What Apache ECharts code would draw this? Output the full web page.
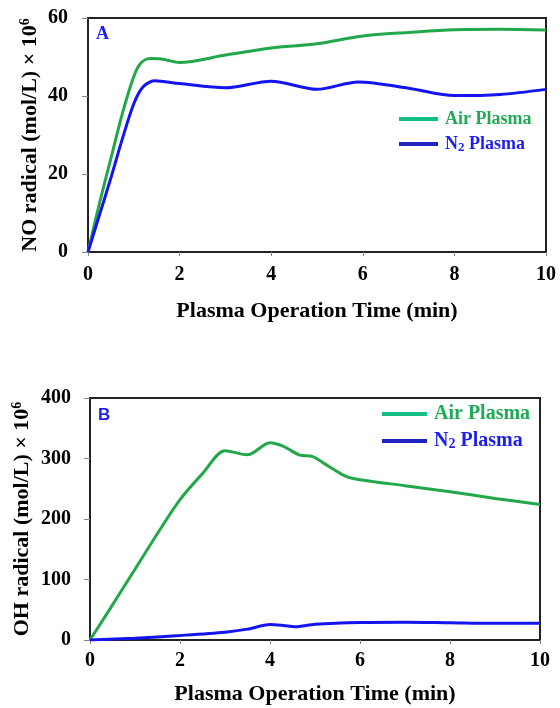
<!DOCTYPE html>
<html>
<head>
<meta charset="utf-8">
<script src="https://cdn.jsdelivr.net/npm/echarts@6/dist/echarts.min.js"></script>
<style>
html,body{margin:0;padding:0;background:#fff;}
#chart{width:560px;height:708px;}
</style>
</head>
<body>
<div id="chart"></div>
<script>
// Panel A: NO radical
const timeAirA = [0, 0.25, 0.5, 0.75, 1.0, 1.15, 1.35, 1.6, 2.0, 3.0, 4.0, 5.0, 6.0, 7.0, 8.0, 9.0, 10];
const noAir    = [0, 12.5, 24, 35.5, 45, 48.4, 49.6, 49.5, 48.6, 50.5, 52.3, 53.4, 55.4, 56.3, 57.0, 57.1, 56.9];
const timeN2A  = [0, 0.25, 0.5, 0.75, 1.0, 1.2, 1.45, 2.0, 3.0, 4.0, 5.0, 5.9, 7.0, 8.0, 9.0, 10];
const noN2     = [0, 9.5, 19, 29, 38, 42.3, 43.9, 43.2, 42.1, 43.8, 41.7, 43.6, 42.0, 40.1, 40.4, 41.7];
// Panel B: OH radical
const timeAirB = [0, 0.5, 1, 1.5, 2, 2.5, 3.0, 3.5, 4.0, 4.3, 4.65, 4.95, 5.2, 5.7, 6.0, 7, 8, 9, 10];
const ohAir    = [0, 58, 117, 176, 232, 275, 313, 306, 326, 320, 306, 303, 292, 270, 265, 255, 245, 234, 224];
const timeN2B  = [0, 1, 2, 3, 3.5, 4.0, 4.3, 4.55, 5, 6, 7, 8, 9, 10];
const ohN2     = [0, 3, 7.5, 13, 18, 25.5, 24, 22, 26, 29, 29.5, 28.5, 27.5, 27.5];

const seriesNames = ['Air Plasma', 'N2 Plasma'];

const pair = (xs, ys) => xs.map((x, i) => [x, ys[i]]);

const FONT = 'Liberation Serif';
const GREEN = '#22A84A';
const BLUE = '#1414F0';

const axisCommonX = (gi, gap, lm) => ({
  type: 'value', gridIndex: gi, min: 0, max: 10, interval: 2,
  name: 'Plasma Operation Time (min)', nameLocation: 'middle', nameGap: gap,
  nameMoveOverlap: false,
  nameTextStyle: {fontFamily: FONT, fontWeight: 'bold', fontSize: 22, color: '#000'},
  axisLine: {show: true, lineStyle: {color: '#222', width: 2}},
  axisTick: {show: true, inside: false, length: 4, lineStyle: {color: '#888', width: 1}},
  axisLabel: {fontFamily: FONT, fontWeight: 'bold', fontSize: 20, color: '#000', margin: lm},
  splitLine: {show: false}
});

const axisCommonY = (gi, max, interval, nameTxt, gap, lm) => ({
  type: 'value', gridIndex: gi, min: 0, max: max, interval: interval,
  name: '{t|' + nameTxt + '}{s|6}', nameLocation: 'middle', nameGap: gap, nameRotate: 90,
  nameMoveOverlap: false,
  nameTextStyle: {
    fontFamily: FONT, fontWeight: 'bold', fontSize: 22, color: '#000',
    rich: {
      t: {fontFamily: FONT, fontWeight: 'bold', fontSize: 22, color: '#000'},
      s: {fontFamily: FONT, fontWeight: 'bold', fontSize: 14, color: '#000', padding: [0, 0, 10, 0]}
    }
  },
  axisLine: {show: true, lineStyle: {color: '#222', width: 2}},
  axisTick: {show: true, inside: false, length: 6, lineStyle: {color: '#888', width: 1}},
  axisLabel: {fontFamily: FONT, fontWeight: 'bold', fontSize: 20, color: '#000', margin: lm},
  splitLine: {show: false}
});

const legendFor = (top, left, w, gap, fs) => ({
  orient: 'vertical', top: top, left: left, itemWidth: w, itemHeight: 4, itemGap: gap,
  padding: 0,
  icon: 'rect',
  textStyle: {fontFamily: FONT, fontWeight: 'bold', fontSize: fs,
    rich: {
      g: {fontFamily: FONT, fontWeight: 'bold', fontSize: fs, color: '#1FAA55', padding: [0, 0, 0, 2]},
      b: {fontFamily: FONT, fontWeight: 'bold', fontSize: fs, color: '#1E1EF0'},
      bn: {fontFamily: FONT, fontWeight: 'bold', fontSize: fs, color: '#1E1EF0', padding: [0, 0, 0, 2]},
      sb: {fontFamily: FONT, fontWeight: 'bold', fontSize: Math.round(fs * 0.7), color: '#1E1EF0', padding: [7, 0, 0, 0]}
    }
  },
  formatter: (n) => n === 'N2 Plasma' ? '{bn|N}{sb|2}{b| Plasma}' : '{g|' + n + '}',
  data: [
    {name: 'Air Plasma', itemStyle: {color: '#12C082'}},
    {name: 'N2 Plasma', itemStyle: {color: '#2222C0'}}
  ]
});

const chart = echarts.init(document.getElementById('chart'), null, {renderer: 'canvas'});
chart.setOption({
  animation: false,
  backgroundColor: '#fff',
  grid: [
    {left: 88, top: 18, width: 458, height: 234, show: true, borderColor: '#222', borderWidth: 2},
    {left: 90, top: 398, width: 450, height: 242, show: true, borderColor: '#222', borderWidth: 2}
  ],
  xAxis: [axisCommonX(0, 48, 13), axisCommonX(1, 43, 11)],
  yAxis: [
    axisCommonY(0, 60, 20, 'NO radical (mol/L) × 10', 46, 20),
    axisCommonY(1, 400, 100, 'OH radical (mol/L) × 10', 56, 19)
  ],
  legend: [
    legendFor(110, 399, 39, 7, 18),
    legendFor(404, 382, 45, 7, 20)
  ],
  graphic: [
    {type: 'text', left: 96, top: 25, style: {text: 'A', font: 'bold 18px "Liberation Serif"', fill: '#1E1EF0'}},
    {type: 'text', left: 98, top: 407, style: {text: 'B', font: 'bold 17px "Liberation Sans"', fill: '#1E1EF0'}}
  ],
  series: [
    {name: seriesNames[0], type: 'line', xAxisIndex: 0, yAxisIndex: 0, data: pair(timeAirA, noAir),
      smooth: 0.3, showSymbol: false, lineStyle: {color: GREEN, width: 3}, itemStyle: {color: GREEN}},
    {name: seriesNames[1], type: 'line', xAxisIndex: 0, yAxisIndex: 0, data: pair(timeN2A, noN2),
      smooth: 0.3, showSymbol: false, lineStyle: {color: BLUE, width: 3}, itemStyle: {color: BLUE}},
    {name: seriesNames[0], type: 'line', xAxisIndex: 1, yAxisIndex: 1, data: pair(timeAirB, ohAir),
      smooth: 0.3, showSymbol: false, lineStyle: {color: GREEN, width: 3}, itemStyle: {color: GREEN}},
    {name: seriesNames[1], type: 'line', xAxisIndex: 1, yAxisIndex: 1, data: pair(timeN2B, ohN2),
      smooth: 0.3, showSymbol: false, lineStyle: {color: BLUE, width: 3}, itemStyle: {color: BLUE}}
  ]
});
</script>
</body>
</html>
